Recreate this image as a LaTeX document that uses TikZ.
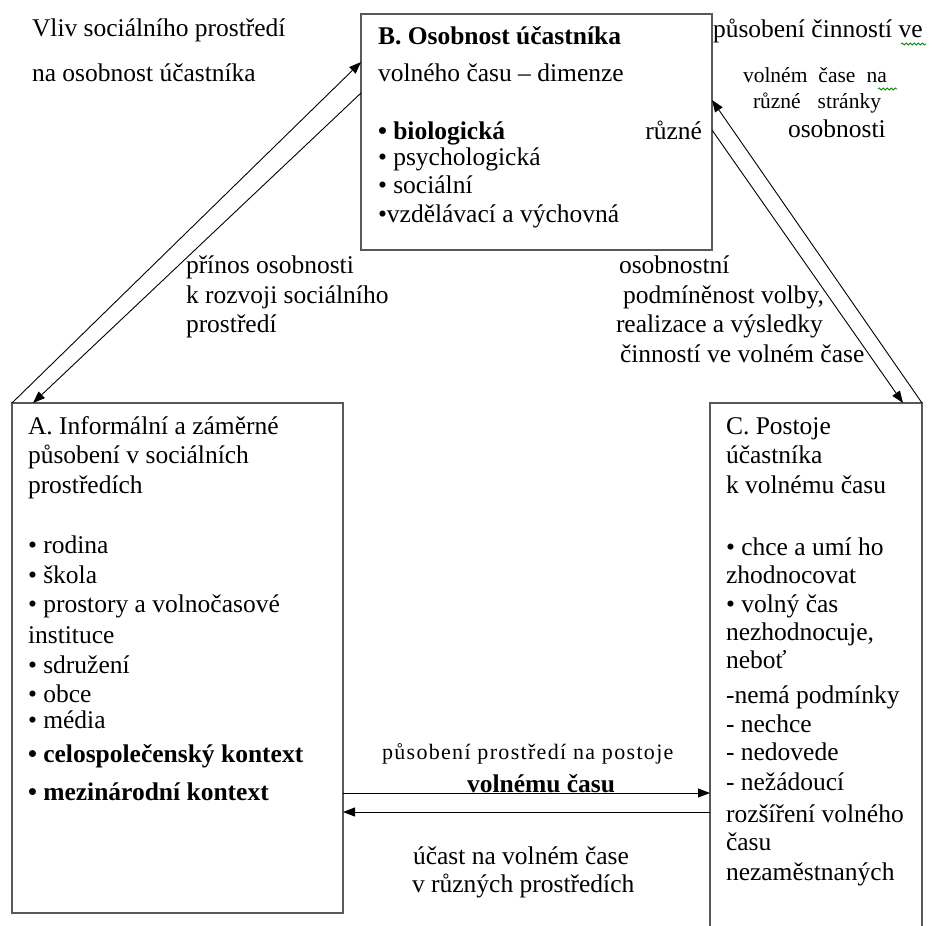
\documentclass[tikz,border=0pt]{standalone}
\usepackage{fontspec}
\setmainfont{Liberation Serif}
\usetikzlibrary{arrows.meta,calc,decorations.pathmorphing}
\begin{document}
\begin{tikzpicture}[x=1pt,y=-1pt,
  box/.style={draw=black!65, line width=1.6pt, inner sep=0pt, outer sep=0pt},
  txt/.style={anchor=base west, inner sep=0pt, outer sep=0pt, font=\fontsize{25.5}{29}\selectfont},
  btxt/.style={txt, font=\fontsize{25.5}{29}\selectfont\bfseries},
  sptxt/.style={txt, font=\fontsize{21.5}{25}\selectfont},
  lstxt/.style={txt, font=\fontsize{22}{25}\selectfont\addfontfeature{LetterSpace=6}},
  conn/.style={line width=0.9pt, -{Triangle[length=12pt,width=9pt]}},
  squig/.style={draw=green!55!black, line width=0.8pt, decorate, decoration={snake, amplitude=1pt, segment length=4pt}}
]
\useasboundingbox (0,0) rectangle (929,926);
\clip (0,0) rectangle (929,926);
\fill[white] (0,0) rectangle (929,926);

% boxes
\node[box, minimum width=351pt, minimum height=236pt] (B) at (536.5,132) {};
\node[box, minimum width=331pt, minimum height=510pt] (A) at (177.5,658) {};
\node[box, minimum width=212pt, minimum height=542pt] (C) at (816,674) {};

% connector end points
\coordinate (b1) at ($(B.north west)+(0,48)$);
\coordinate (b2) at ($(B.north west)+(0,79)$);
\coordinate (a2) at ($(A.north west)+(21,0)$);
\coordinate (b3) at ($(B.north east)+(0,86)$);
\coordinate (b4) at ($(B.north east)+(0,116)$);
\coordinate (c4) at ($(C.north east)+(-19,0)$);
\coordinate (a5) at ($(A.north east)+(0,390)$);
\coordinate (c5) at ($(C.north west)+(0,390)$);
\coordinate (a6) at ($(A.north east)+(0,409)$);
\coordinate (c6) at ($(C.north west)+(0,409)$);

% top-left text
\node[txt] (vl1) at (32,36) {Vliv sociálního prostředí};
\node[txt] (vl2) at (32,81) {na osobnost účastníka};

% B text
\node[btxt] (bt1) at (378,44) {B. Osobnost účastníka};
\node[txt] (bt2) at (378,81) {volného času – dimenze};
\node[btxt] (bt3) at (378,139) {• biologická};
\node[txt, anchor=base east] (bt4) at (702,139) {různé};
\node[txt] (bt5) at (378,165) {• psychologická};
\node[txt] (bt6) at (378,193) {• sociální};
\node[txt] (bt7) at (378,222) {•vzdělávací a výchovná};

% top-right text
\node[txt] (tr1) at (713,37) {působení činností ve};
\node[sptxt] (tr2) at (743,82) {volném\hspace{11pt}čase\hspace{11pt}na};
\node[sptxt] (tr3) at (753,108) {různé\hspace{17pt}stránky};
\node[txt] (tr4) at (788,137) {osobnosti};
\draw[squig] (901,44) -- (926,44);
\draw[squig] (878,89) -- (897,89);

% middle labels
\node[txt] (ml1) at (186,273) {přínos osobnosti};
\node[txt] (ml2) at (186,303) {k rozvoji sociálního};
\node[txt] (ml3) at (186,332) {prostředí};
\node[txt] (mr1) at (619,273) {osobnostní};
\node[txt] (mr2) at (623,303) {podmíněnost volby,};
\node[txt] (mr3) at (616,332) {realizace a výsledky};
\node[txt] (mr4) at (620,362) {činností ve volném čase};

% A text
\node[txt] (at1) at (28,434) {A. Informální a záměrné};
\node[txt] (at2) at (28,463) {působení v sociálních};
\node[txt] (at3) at (28,493) {prostředích};
\node[txt] (at4) at (28,553) {• rodina};
\node[txt] (at5) at (28,583) {• škola};
\node[txt] (at6) at (28,612) {• prostory a volnočasové};
\node[txt] (at7) at (28,643) {instituce};
\node[txt] (at8) at (28,673) {• sdružení};
\node[txt] (at9) at (28,702) {• obce};
\node[txt] (at10) at (28,728) {• média};
\node[btxt] (at11) at (28,762) {• celospolečenský kontext};
\node[btxt] (at12) at (28,800) {• mezinárodní kontext};

% C text
\node[txt] (ct1) at (726,434) {C. Postoje};
\node[txt] (ct2) at (726,463) {účastníka};
\node[txt] (ct3) at (726,493) {k volnému času};
\node[txt] (ct4) at (726,555) {• chce a umí ho};
\node[txt] (ct5) at (726,583) {zhodnocovat};
\node[txt] (ct6) at (726,612) {• volný čas};
\node[txt] (ct7) at (726,640) {nezhodnocuje,};
\node[txt] (ct8) at (726,668) {neboť};
\node[txt] (ct9) at (726,703) {-nemá podmínky};
\node[txt] (ct10) at (726,732) {- nechce};
\node[txt] (ct11) at (726,760) {- nedovede};
\node[txt] (ct12) at (726,790) {- nežádoucí};
\node[txt] (ct13) at (726,822) {rozšíření volného};
\node[txt] (ct14) at (726,850) {času};
\node[txt] (ct15) at (726,880) {nezaměstnaných};

% bottom labels
\node[lstxt] (bl1) at (382,759) {působení prostředí na postoje};
\node[btxt] (bl2) at (467,792) {volnému času};
\node[txt] (bl3) at (413,864) {účast na volném čase};
\node[txt] (bl4) at (412,892) {v různých prostředích};

% connectors
\draw[conn] (A.north west) -- (b1);
\draw[conn] (b2) -- (a2);
\draw[conn] (C.north east) -- (b3);
\draw[conn] (b4) -- (c4);
\draw[conn] (a5) -- (c5);
\draw[conn] (c6) -- (a6);
\end{tikzpicture}
\end{document}
